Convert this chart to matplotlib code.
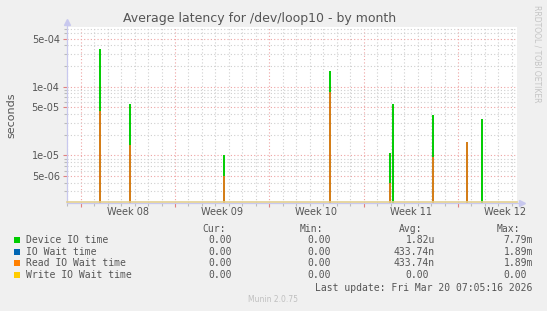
import numpy as np
import pandas as pd
import matplotlib
matplotlib.use("Agg")
import matplotlib.pyplot as plt
import matplotlib.dates as mdates
import matplotlib.ticker as mticker

# spikes (everything else is 0)
spike_times = ["2026-02-17 11:15", "2026-02-19 15:20", "2026-02-26 16:05",
               "2026-03-06 12:30", "2026-03-10 23:45", "2026-03-11 04:50",
               "2026-03-14 04:05", "2026-03-16 16:35", "2026-03-17 19:10"]
device_io = [3.55e-4, 5.6e-5, 1.0e-5, 1.69e-4, 1.08e-5, 5.6e-5, 3.86e-5, 1.56e-5, 3.38e-5]
io_wait = [4.43e-5, 1.41e-5, 5.0e-6, 8.3e-5, 4.0e-6, 0, 9.5e-6, 1.56e-5, 0]
read_wait = [4.43e-5, 1.41e-5, 5.0e-6, 8.3e-5, 4.0e-6, 0, 9.5e-6, 1.56e-5, 0]

week_starts = ["2026-02-16", "2026-02-23", "2026-03-02", "2026-03-09", "2026-03-16"]
week_labels = ["Week 08", "Week 09", "Week 10", "Week 11", "Week 12"]

legend_names = ["Device IO time", "IO Wait time", "Read IO Wait time", "Write IO Wait time"]
legend_colors = ["#00cc00", "#0066b3", "#ff8000", "#ffcc00"]
cur_vals = ["0.00", "0.00", "0.00", "0.00"]
min_vals = ["0.00", "0.00", "0.00", "0.00"]
avg_vals = ["1.82u", "433.74n", "433.74n", "0.00"]
max_vals = ["7.79m", "1.89m", "1.89m", "0.00"]

t_start = pd.Timestamp("2026-02-14 23:05")
t_end = pd.Timestamp("2026-03-20 08:35")
ylo, yhi = 2.05e-6, 7.3e-4

W, H = 547, 311
fig = plt.figure(figsize=(W / 100, H / 100), dpi=100, facecolor="#f0f0f0")
ax = fig.add_axes([66.7 / W, (H - 202.7) / H, 450 / W, (202.7 - 27.3) / H])
ax.set_facecolor("white")
ax.set_yscale("log")
ax.set_ylim(ylo, yhi)
ax.set_xlim(mdates.date2num(t_start), mdates.date2num(t_end))

for s in ax.spines.values():
    s.set_visible(False)

# grid
grey = "#cfcfcf"
red = "#eea3a3"
dots = (0, (1, 2))
days = pd.date_range("2026-02-15", "2026-03-20", freq="D")
wk = mdates.date2num(pd.to_datetime(week_starts))
ax.xaxis.set_major_locator(mticker.FixedLocator(wk))
ax.xaxis.set_minor_locator(mticker.FixedLocator(
    [d for d in mdates.date2num(days) if d not in wk]))
ax.xaxis.set_major_formatter(mticker.NullFormatter())
ax.xaxis.set_minor_formatter(mticker.NullFormatter())

ymaj = [5e-6, 1e-5, 5e-5, 1e-4, 5e-4]
ymin = [m * 10.0 ** e for e in range(-6, -3) for m in range(2, 10)
        if m * 10.0 ** e not in ymaj and m != 5]
ymin = [v for v in ymin if ylo < v < yhi]
ax.yaxis.set_major_locator(mticker.FixedLocator(ymaj))
ax.yaxis.set_minor_locator(mticker.FixedLocator(ymin))
ax.yaxis.set_major_formatter(mticker.FuncFormatter(lambda v, p: "%.0e" % v))
ax.yaxis.set_minor_formatter(mticker.NullFormatter())

ax.grid(True, which="minor", color=grey, linestyle=dots, linewidth=0.8)
ax.grid(True, which="major", color=red, linestyle=dots, linewidth=0.8)
ax.set_axisbelow(True)

ax.tick_params(axis="x", which="major", length=3, width=0.8, color="#e08080", labelbottom=False)
ax.tick_params(axis="x", which="minor", length=2, width=0.8, color="#bbbbbb")
ax.tick_params(axis="y", which="major", length=3, width=0.8, color="#e08080",
               labelsize=7, labelcolor="#555555", pad=2)
ax.tick_params(axis="y", which="minor", length=2, width=0.8, color="#bbbbbb")

# axis lines with arrows
axc = "#c8c8ee"
ax.plot([0, 0], [0, 1.02], transform=ax.transAxes, color=axc, lw=0.9, clip_on=False)
ax.plot([0, 1.01], [0, 0], transform=ax.transAxes, color=axc, lw=0.9, clip_on=False)
ax.plot([0], [1.03], marker="^", ms=4, color=axc, transform=ax.transAxes, clip_on=False)
ax.plot([1.012], [0], marker=">", ms=4, color=axc, transform=ax.transAxes, clip_on=False)

# data
tx = mdates.date2num(pd.to_datetime(spike_times))
dev = np.array(device_io)
iow = np.array(io_wait)
rdw = np.array(read_wait)
ax.vlines(tx[dev > 0], ylo, dev[dev > 0], color=legend_colors[0], lw=1.4)
ax.vlines(tx[iow > 0], ylo, iow[iow > 0], color=legend_colors[1], lw=1.2)
ax.vlines(tx[rdw > 0], ylo, rdw[rdw > 0], color=legend_colors[2], lw=1.2)
ax.axhline(ylo * 1.01, color="#e2cf90", lw=1.2, clip_on=False)

# week labels in the middle of each week
for ws, lab in zip(pd.to_datetime(week_starts), week_labels):
    ax.text(mdates.date2num(ws + pd.Timedelta(days=3.5)), -0.055, lab,
            transform=ax.get_xaxis_transform(), ha="center", va="center",
            fontsize=7, color="#555555")

txt = "#555555"
fig.text(260 / W, 1 - 18.5 / H, "Average latency for /dev/loop10 - by month",
         ha="center", va="center", fontsize=9, color=txt)
fig.text(11 / W, 1 - 115 / H, "seconds", rotation=90, ha="center", va="center",
         fontsize=8, color=txt)
fig.text(537 / W, 1 - 5 / H, "RRDTOOL / TOBI OETIKER", rotation=270, ha="center",
         va="top", fontsize=5.5, color="#c4c4c4")

mono = "DejaVu Sans Mono"
cw = 5.95
for x, h in zip([226, 323.3, 422.7, 520], ["Cur:", "Min:", "Avg:", "Max:"]):
    fig.text(x / W, 1 - 228.5 / H, h, ha="right", va="center", fontsize=7,
             family=mono, color=txt)
rows_y = [240, 251.7, 263.3, 275.3]
cols = [(238.3, cur_vals), (336.7, min_vals), (435, avg_vals), (533, max_vals)]
for i, (name, col) in enumerate(zip(legend_names, legend_colors)):
    y = 1 - rows_y[i] / H
    fig.patches.append(plt.Rectangle((13.5 / W, y - 3 / H), 6 / W, 6 / H,
                                     transform=fig.transFigure, color=col, lw=0))
    fig.text(26 / W, y, name, ha="left", va="center", fontsize=7, family=mono, color=txt)
    for xr, vals in cols:
        v = vals[i]
        xe = xr if v[-1].isalpha() else xr - cw
        fig.text(xe / W, y, v, ha="right", va="center", fontsize=7, family=mono, color=txt)

fig.text(532 / W, 1 - 287.7 / H, "Last update: Fri Mar 20 07:05:16 2026", ha="right",
         va="center", fontsize=7, family=mono, color=txt)
fig.text(273 / W, 1 - 300 / H, "Munin 2.0.75", ha="center", va="center",
         fontsize=5.5, color="#c0c0c0")

fig.savefig("out.png", dpi=100, facecolor=fig.get_facecolor())
